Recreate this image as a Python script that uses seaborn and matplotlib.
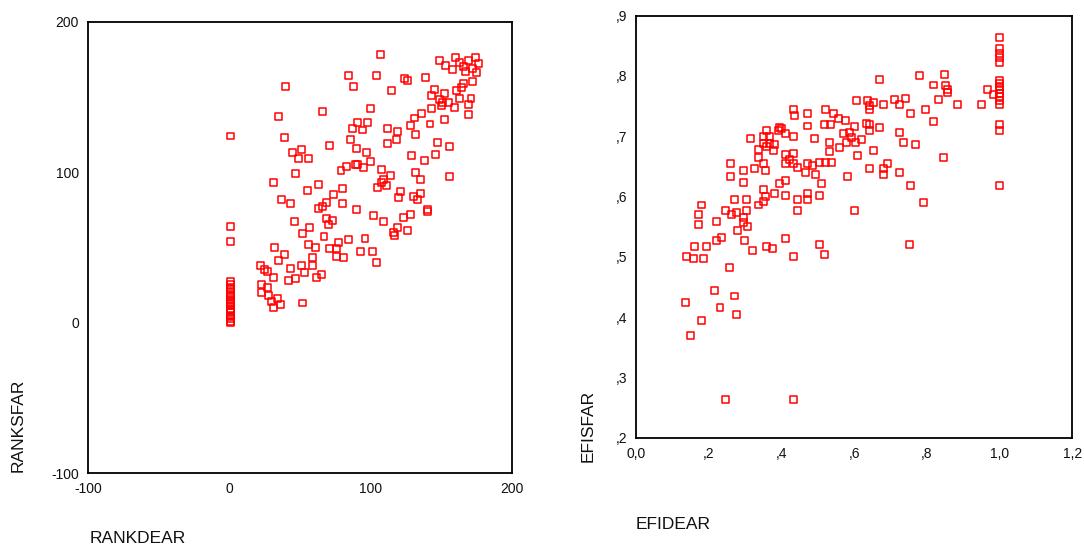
import numpy as np
import pandas as pd
import matplotlib
matplotlib.use("Agg")
import matplotlib.pyplot as plt
import seaborn as sns

# --- left panel: rank scores (DEA vs SFA) ---
rank_dea = [107, 149, 153, 160, 158, 163, 169, 174, 176, 167, 172, 175, 166, 84, 104, 88, 124, 126, 139, 40,
            115, 145, 143, 152, 149, 151, 155, 150, 159, 161, 164, 166, 172, 163, 171, 169, 169, 143, 136, 131,
            128, 132, 142, 152, 66, 100, 35, 87, 91, 94, 98, 112, 119, 118, 112, 86, 90, 97, 100, 91,
            89, 83, 95, 79, 71, 39, 45, 51, 49, 56, 47, 31, 63, 55, 37, 43, 74, 80, 69, 66,
            63, 80, 90, 69, 73, 70, 46, 57, 52, 67, 56, 61, 32, 39, 35, 77, 84, 71, 76, 76,
            81, 96, 93, 101, 104, 59, 59, 51, 43, 53, 47, 42, 62, 65, 22, 25, 27, 31, 23, 27,
            23, 28, 30, 34, 36, 31, 52, 129, 138, 147, 146, 156, 156, 108, 114, 109, 108, 105, 111, 132,
            135, 121, 120, 130, 133, 135, 140, 140, 128, 123, 102, 109, 119, 116, 117, 126,
            1, 1, 1, 1, 1, 1, 1, 1, 1, 1, 1, 1, 1, 1, 1, 1, 1, 1, 1, 1, 1, 1]
rank_sfa = [178, 174, 171, 176, 168, 173, 174, 176, 172, 167, 169, 166, 170, 164, 164, 157, 162, 161, 163, 157,
            154, 155, 151, 152, 148, 146, 146, 144, 143, 154, 156, 159, 160, 149, 149, 145, 138, 142, 139, 136,
            131, 125, 132, 135, 140, 142, 137, 129, 133, 128, 133, 129, 127, 122, 119, 122, 116, 113, 107, 105,
            105, 104, 103, 101, 118, 123, 113, 115, 109, 109, 99, 93, 92, 88, 82, 79, 85, 89, 80, 77,
            76, 79, 75, 69, 68, 65, 67, 63, 59, 57, 52, 50, 50, 45, 41, 53, 55, 49, 49, 44,
            43, 56, 47, 47, 40, 43, 38, 38, 36, 33, 29, 28, 30, 32, 38, 35, 34, 30, 25, 23,
            20, 18, 14, 16, 12, 10, 13, 111, 108, 120, 112, 117, 97, 102, 98, 95, 93, 90, 91, 100,
            95, 87, 83, 84, 82, 86, 75, 74, 72, 70, 71, 67, 63, 60, 58, 61,
            124, 64, 54, 0, 1, 3, 4, 5, 7, 8, 9, 11, 12, 14, 15, 17, 18, 20, 22, 23, 25, 27]

# --- right panel: efficiency scores (DEA vs SFA) ---
efi_dea = [1.0, 1.0, 1.0, 1.0, 1.0, 1.0, 1.0, 1.0, 1.0, 1.0, 1.0, 1.0, 1.0, 1.0, 1.0, 1.0,
           0.966, 0.983, 0.950, 0.884, 0.848, 0.852, 0.857, 0.857, 0.818, 0.779, 0.669, 0.833, 0.795, 0.818,
           0.742, 0.712, 0.726, 0.756, 0.680, 0.607, 0.637, 0.653, 0.642, 0.642, 0.634, 0.642, 0.642, 0.669,
           0.602, 0.575, 0.556, 0.543, 0.522, 0.518, 0.535, 0.433, 0.437, 0.471, 0.471, 0.394, 0.401, 0.392,
           0.412, 0.433, 0.492, 0.316, 0.359, 0.352, 0.368, 0.350, 0.368, 0.382, 0.359, 0.338, 0.378, 0.570,
           0.586, 0.593, 0.579, 0.604, 0.621, 0.561, 0.532, 0.532, 0.653, 0.609, 0.726, 0.735, 0.769, 0.845,
           0.410, 0.432, 0.421, 0.412, 0.433, 0.445, 0.336, 0.327, 0.350, 0.356, 0.471, 0.486, 0.506, 0.520,
           0.538, 0.465, 0.494, 0.642, 0.680, 0.692, 0.680, 0.726, 0.581, 0.261, 0.261, 0.295, 0.295, 0.412,
           0.396, 0.509, 0.756, 0.350, 0.382, 0.412, 0.471, 0.471, 0.504, 0.444, 0.355, 0.350, 0.336, 0.272,
           0.304, 0.179, 0.171, 0.173, 0.245, 0.263, 0.276, 0.304, 0.295, 0.295, 0.306, 0.279, 0.222, 0.444,
           0.602, 0.790, 0.222, 0.234, 0.299, 0.321, 0.162, 0.194, 0.139, 0.157, 0.185, 0.359, 0.376, 0.410,
           0.433, 0.504, 0.518, 0.751, 0.257, 0.217, 0.272, 0.135, 0.231, 0.277, 0.179, 0.151, 0.245, 0.433]
efi_sfa = [0.864, 0.846, 0.838, 0.831, 0.823, 0.793, 0.788, 0.782, 0.777, 0.771, 0.766, 0.760, 0.753, 0.719, 0.709, 0.618,
           0.778, 0.770, 0.753, 0.753, 0.803, 0.784, 0.777, 0.772, 0.785, 0.800, 0.794, 0.761, 0.744, 0.725,
           0.762, 0.761, 0.753, 0.737, 0.753, 0.760, 0.760, 0.756, 0.751, 0.744, 0.721, 0.720, 0.709, 0.715,
           0.716, 0.726, 0.730, 0.737, 0.744, 0.719, 0.719, 0.744, 0.734, 0.737, 0.717, 0.714, 0.713, 0.709,
           0.704, 0.699, 0.697, 0.696, 0.709, 0.699, 0.699, 0.688, 0.688, 0.687, 0.683, 0.678, 0.677, 0.705,
           0.706, 0.698, 0.689, 0.689, 0.694, 0.681, 0.689, 0.674, 0.677, 0.668, 0.706, 0.690, 0.687, 0.665,
           0.669, 0.671, 0.662, 0.655, 0.655, 0.648, 0.665, 0.647, 0.655, 0.643, 0.655, 0.652, 0.656, 0.656,
           0.656, 0.640, 0.637, 0.646, 0.646, 0.655, 0.637, 0.640, 0.633, 0.655, 0.633, 0.643, 0.624, 0.627,
           0.621, 0.621, 0.618, 0.612, 0.605, 0.601, 0.605, 0.595, 0.601, 0.595, 0.600, 0.591, 0.586, 0.595,
           0.595, 0.586, 0.570, 0.554, 0.577, 0.570, 0.574, 0.577, 0.565, 0.557, 0.551, 0.544, 0.558, 0.577,
           0.577, 0.590, 0.527, 0.532, 0.527, 0.510, 0.517, 0.517, 0.501, 0.497, 0.497, 0.517, 0.514, 0.530,
           0.501, 0.520, 0.504, 0.520, 0.482, 0.444, 0.435, 0.425, 0.416, 0.404, 0.394, 0.369, 0.264, 0.264]

rank_ticks = [-100, 0, 100, 200]
rank_labels = ["-100", "0", "100", "200"]
efi_xticks = [0.0, 0.2, 0.4, 0.6, 0.8, 1.0, 1.2]
efi_xlabels = ["0,0", ",2", ",4", ",6", ",8", "1,0", "1,2"]
efi_yticks = [0.2, 0.3, 0.4, 0.5, 0.6, 0.7, 0.8, 0.9]
efi_ylabels = [",2", ",3", ",4", ",5", ",6", ",7", ",8", ",9"]

n = min(len(rank_dea), len(rank_sfa))
df_rank = pd.DataFrame({"RANKDEAR": rank_dea[:n], "RANKSFAR": rank_sfa[:n]})
df_efi = pd.DataFrame({"EFIDEAR": efi_dea, "EFISFAR": efi_sfa})

sns.set_style("white")
plt.rcParams["font.family"] = ["Liberation Sans", "DejaVu Sans"]

fig = plt.figure(figsize=(10.84, 5.52), dpi=100)
ax1 = fig.add_axes([0.0812, 0.1431, 0.3911, 0.8176])
ax2 = fig.add_axes([0.5867, 0.2071, 0.4025, 0.7645])

marker_kw = dict(marker="s", s=25, facecolor="none", edgecolor="#ff0000", linewidth=1.1)

sns.scatterplot(data=df_rank, x="RANKDEAR", y="RANKSFAR", ax=ax1, **marker_kw)
sns.scatterplot(data=df_efi, x="EFIDEAR", y="EFISFAR", ax=ax2, **marker_kw)

ax1.set_xlim(-100, 200)
ax1.set_ylim(-100, 200)
ax1.set_xticks(rank_ticks)
ax1.set_xticklabels(rank_labels)
ax1.set_yticks(rank_ticks)
ax1.set_yticklabels(rank_labels)

ax2.set_xlim(0.0, 1.2)
ax2.set_ylim(0.2, 0.9)
ax2.set_xticks(efi_xticks)
ax2.set_xticklabels(efi_xlabels)
ax2.set_yticks(efi_yticks)
ax2.set_yticklabels(efi_ylabels)

for ax in (ax1, ax2):
    ax.set_xlabel("")
    ax.set_ylabel("")
    for sp in ax.spines.values():
        sp.set_color("black")
        sp.set_linewidth(1.3)
    ax.tick_params(direction="out", length=2.5, width=1.5, color="black",
                   labelsize=10, pad=4, labelcolor="#111111")
    ax.grid(False)

# SPSS-style axis titles at the start of each axis
fig.text(0.0166, 0.145, "RANKSFAR", rotation=90, ha="center", va="bottom", fontsize=12.5, color="#111111")
fig.text(0.083, 0.025, "RANKDEAR", ha="left", va="center", fontsize=12.5, color="#111111")
fig.text(0.5425, 0.163, "EFISFAR", rotation=90, ha="center", va="bottom", fontsize=12.5, color="#111111")
fig.text(0.5867, 0.049, "EFIDEAR", ha="left", va="center", fontsize=12.5, color="#111111")

fig.savefig("out.png", dpi=100)
